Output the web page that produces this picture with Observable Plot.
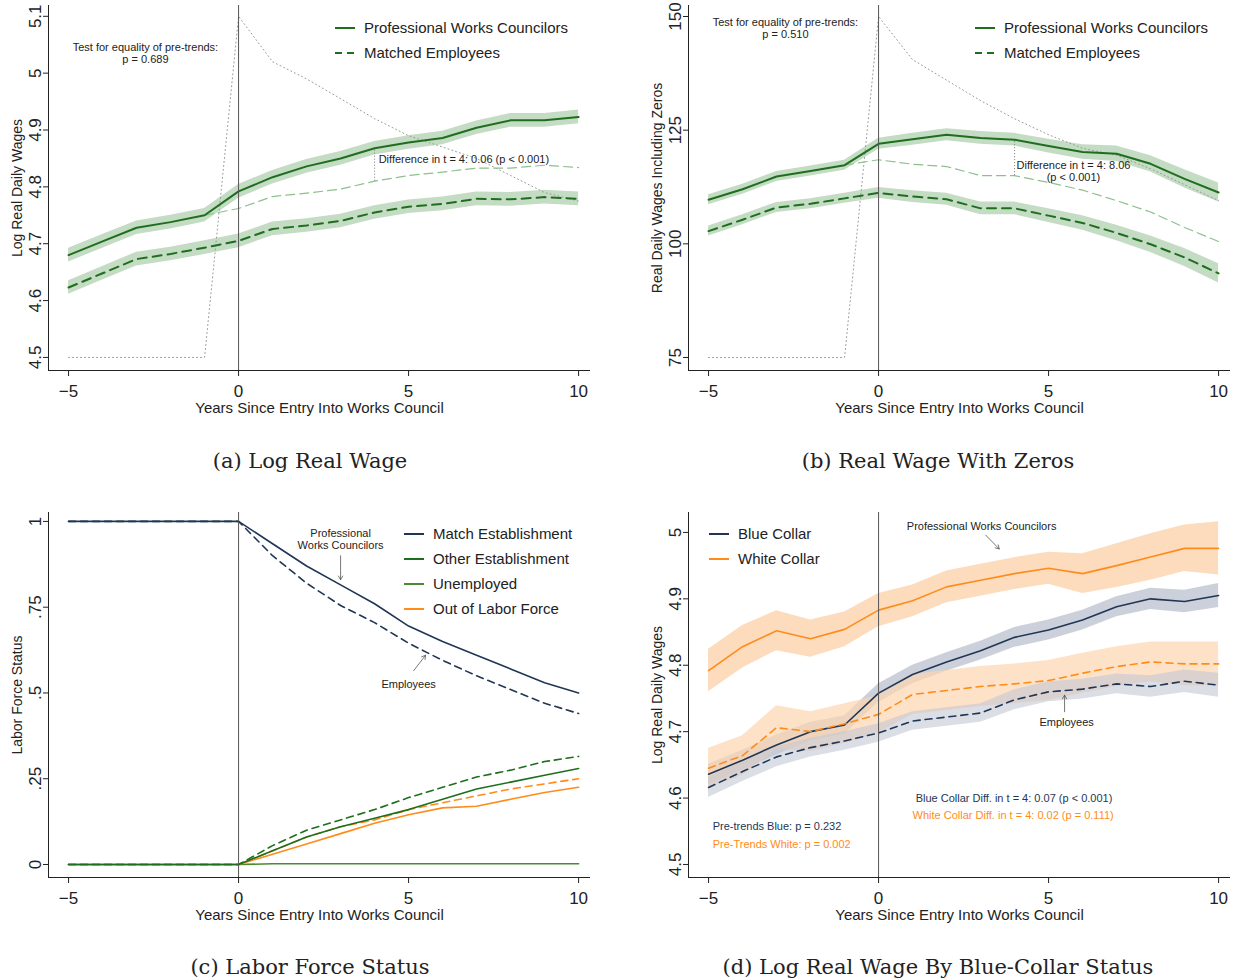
<!DOCTYPE html>
<html>
<head>
<meta charset="utf-8">
<script src="https://cdn.jsdelivr.net/npm/d3@7"></script>
<script src="https://cdn.jsdelivr.net/npm/@observablehq/plot@0.6"></script>
<style>
  body { margin: 0; background: #fff; font-family: "Liberation Sans", Arial, sans-serif; }
  #page { position: relative; width: 1238px; height: 980px; }
  .panel { position: absolute; width: 620px; height: 420px; }
  .cap { position: absolute; width: 620px; text-align: center; font-family: "DejaVu Serif", "Liberation Serif", serif; font-size: 21px; color: #222; }
  .leg { position: absolute; font-size: 15px; color: #222; }
  .leg div { display: flex; align-items: center; height: 25px; }
  .leg svg { margin-right: 9px; }
</style>
</head>
<body>
<div id="page">
  <div class="panel" id="pa" style="left:0;top:0"></div>
  <div class="panel" id="pb" style="left:640px;top:0"></div>
  <div class="panel" id="pc" style="left:0;top:507px"></div>
  <div class="panel" id="pd" style="left:640px;top:507px"></div>
  <div class="cap" style="left:0;top:449px">(a) Log Real Wage</div>
  <div class="cap" style="left:628px;top:449px">(b) Real Wage With Zeros</div>
  <div class="cap" style="left:0;top:955px">(c) Labor Force Status</div>
  <div class="cap" style="left:628px;top:955px">(d) Log Real Wage By Blue-Collar Status</div>
</div>
<script>
const years = d3.range(-5, 11);
const postYears = d3.range(-1, 11);
const xTicks = [-5, 0, 5, 10];

// (a) log real wage
const aPwc = [4.68, 4.704, 4.728, 4.738, 4.75, 4.792, 4.817, 4.836, 4.85, 4.868, 4.878, 4.886, 4.904, 4.917, 4.917, 4.923];
const aMe = [4.623, 4.648, 4.673, 4.682, 4.693, 4.705, 4.726, 4.732, 4.74, 4.755, 4.765, 4.77, 4.779, 4.778, 4.782, 4.779];
const aCf = [4.75, 4.762, 4.783, 4.789, 4.796, 4.81, 4.82, 4.826, 4.833, 4.833, 4.838, 4.834];
const aDots = [4.5, 4.5, 4.5, 4.5, 4.5, 5.1, 5.02, 4.99, 4.955, 4.92, 4.89, 4.87, 4.85, 4.82, 4.79, 4.775];
const aSe = 0.012;

// (b) real wage including zeros
const bPwc = [109.7, 112, 114.8, 116, 117.3, 122, 123, 124, 123.3, 122.9, 121.5, 120.2, 119.8, 117.6, 114.3, 111.3];
const bMe = [102.8, 105.3, 108, 108.8, 110, 111.2, 110.4, 109.8, 107.8, 107.8, 106.2, 104.6, 102.4, 99.9, 97, 93.5];
const bCf = [117.3, 118.5, 117.5, 117, 115, 115, 113.5, 111.8, 109.5, 107, 103.6, 100.5];
const bDots = [75, 75, 75, 75, 75, 150, 140.5, 136, 131.5, 127.5, 124, 121, 119.5, 116.5, 113, 109.5];
const bSe = [1.1, 1.1, 1.1, 1.1, 1.1, 1.2, 1.3, 1.3, 1.4, 1.4, 1.5, 1.6, 1.7, 1.8, 2, 2.1];

// (c) labor force status
const cMatchP = [1, 1, 1, 1, 1, 1, 0.935, 0.87, 0.815, 0.76, 0.695, 0.65, 0.61, 0.57, 0.53, 0.5];
const cMatchE = [1, 1, 1, 1, 1, 1, 0.9, 0.82, 0.755, 0.705, 0.645, 0.595, 0.55, 0.51, 0.47, 0.44];
const cOtherP = [0, 0, 0, 0, 0, 0, 0.04, 0.08, 0.11, 0.135, 0.16, 0.19, 0.22, 0.24, 0.26, 0.28];
const cOtherE = [0, 0, 0, 0, 0, 0, 0.055, 0.1, 0.13, 0.16, 0.195, 0.225, 0.255, 0.275, 0.3, 0.315];
const cUnemp = [0, 0, 0, 0, 0, 0, 0.002, 0.002, 0.002, 0.002, 0.002, 0.002, 0.002, 0.002, 0.002, 0.002];
const cOutP = [0, 0, 0, 0, 0, 0, 0.03, 0.06, 0.09, 0.12, 0.145, 0.165, 0.17, 0.19, 0.21, 0.225];
const cOutE = [0, 0, 0, 0, 0, 0, 0.04, 0.08, 0.11, 0.13, 0.16, 0.18, 0.2, 0.22, 0.235, 0.25];

// (d) by blue-collar status
const dWhiteP = [4.792, 4.828, 4.852, 4.84, 4.854, 4.883, 4.897, 4.918, 4.928, 4.938, 4.946, 4.938, 4.95, 4.963, 4.976, 4.976];
const dBlueP = [4.636, 4.657, 4.68, 4.7, 4.71, 4.758, 4.786, 4.805, 4.822, 4.842, 4.853, 4.868, 4.888, 4.9, 4.896, 4.905];
const dWhiteE = [4.645, 4.664, 4.706, 4.7, 4.712, 4.726, 4.756, 4.762, 4.768, 4.772, 4.777, 4.788, 4.798, 4.805, 4.802, 4.802];
const dBlueE = [4.616, 4.64, 4.662, 4.676, 4.686, 4.698, 4.716, 4.722, 4.728, 4.748, 4.76, 4.764, 4.772, 4.768, 4.776, 4.77];
const dWhitePSe = [0.032, 0.032, 0.03, 0.028, 0.026, 0.025, 0.024, 0.024, 0.024, 0.024, 0.024, 0.03, 0.033, 0.035, 0.035, 0.04];
const dWhiteESe = [0.03, 0.03, 0.033, 0.03, 0.03, 0.028, 0.03, 0.03, 0.03, 0.03, 0.03, 0.03, 0.03, 0.03, 0.033, 0.033];
const dBlueSe = [0.015, 0.015, 0.015, 0.014, 0.014, 0.014, 0.014, 0.014, 0.014, 0.015, 0.015, 0.015, 0.015, 0.016, 0.017, 0.018];

const GREEN = "#1e6e1e", LGREEN = "#8cc08c", BAND_G = "#c4dcc4";
const NAVY = "#1f3656", ORANGE = "#ff8c1a", OLIVE = "#4b8a32";
const BAND_N = "#c3c8d3", BAND_O = "#fdd5b1";

const toRows = (xs, ys, se) =>
  xs.map((x, i) => ({ x, y: ys[i], lo: se == null ? null : ys[i] - (Array.isArray(se) ? se[i] : se), hi: se == null ? null : ys[i] + (Array.isArray(se) ? se[i] : se) }));

function panel(id, { yDomain, yTicks, yFormat, yLabel, marks }) {
  const xDomain = [-5.59, 10.35];
  const fig = Plot.plot({
    width: 620, height: 420,
    marginLeft: 48, marginRight: 30, marginTop: 5, marginBottom: 50,
    style: { fontFamily: "Liberation Sans, Arial, sans-serif", color: "#222", background: "transparent", overflow: "visible" },
    x: { domain: xDomain },
    y: { domain: yDomain },
    marks: [
      ...marks,
      Plot.ruleX([0], { stroke: "#555", strokeWidth: 1 }),
      Plot.ruleX([xDomain[0]], { stroke: "#222" }),
      Plot.ruleY([yDomain[0]], { stroke: "#222" }),
      Plot.axisX({ ticks: xTicks, tickSize: 6, fontSize: 17, tickPadding: 8, label: null }),
      Plot.text(["Years Since Entry Into Works Council"], { frameAnchor: "bottom", dy: 42, fontSize: 15 }),
      Plot.axisY({ ticks: yTicks, tickFormat: yFormat, tickSize: 5, fontSize: 17, tickRotate: -90, textAnchor: "middle", tickPadding: 3, label: null }),
      Plot.text([yLabel], { frameAnchor: "left", textAnchor: "middle", dx: -31, rotate: -90, fontSize: 14 })
    ]
  });
  document.getElementById(id).append(fig);
}

const band = (rows, fill, op = 1) => Plot.areaY(rows, { x: "x", y1: "lo", y2: "hi", fill, fillOpacity: op });
const line = (rows, stroke, opts = {}) => Plot.line(rows, { x: "x", y: "y", stroke, strokeWidth: 2, ...opts });
const note = (t, x, y, o = {}) => Plot.text([t], { x: () => x, y: () => y, fontSize: 11, fill: "#222", lineHeight: 1.05, ...o });
const arr = (x1, y1, x2, y2) => Plot.arrow([0], { x1: () => x1, y1: () => y1, x2: () => x2, y2: () => y2, stroke: "#555", strokeWidth: 0.8, headLength: 8 });

// (a)
{
  const p = toRows(years, aPwc, aSe), m = toRows(years, aMe, aSe);
  panel("pa", {
    yDomain: [4.477, 5.119], yTicks: [4.5, 4.6, 4.7, 4.8, 4.9, 5, 5.1], yFormat: d3.format(""),
    yLabel: "Log Real Daily Wages",
    marks: [
      band(p, BAND_G), band(m, BAND_G),
      line(toRows(years, aDots), "#999", { strokeWidth: 1, strokeDasharray: "1,3" }),
      line(toRows(postYears, aCf), LGREEN, { strokeWidth: 1.2, strokeDasharray: "9,5" }),
      Plot.ruleX([4], { y1: () => aCf[5], y2: () => aPwc[9], stroke: "#777", strokeDasharray: "1,2" }),
      line(p, GREEN), line(m, GREEN, { strokeDasharray: "9,6" }),
      note("Test for equality of pre-trends:\np = 0.689", -2.74, 5.035),
      note("Difference in t = 4: 0.06 (p < 0.001)", 4.12, 4.848, { textAnchor: "start" })
    ]
  });
}
// (b)
{
  const p = toRows(years, bPwc, bSe), m = toRows(years, bMe, bSe);
  panel("pb", {
    yDomain: [72.14, 152.42], yTicks: [75, 100, 125, 150], yFormat: d3.format(""),
    yLabel: "Real Daily Wages Including Zeros",
    marks: [
      band(p, BAND_G), band(m, BAND_G),
      line(toRows(years, bDots), "#999", { strokeWidth: 1, strokeDasharray: "1,3" }),
      line(toRows(postYears, bCf), LGREEN, { strokeWidth: 1.2, strokeDasharray: "9,5" }),
      Plot.ruleX([4], { y1: () => bCf[5], y2: () => bPwc[9], stroke: "#777", strokeDasharray: "1,2" }),
      line(p, GREEN), line(m, GREEN, { strokeDasharray: "9,6" }),
      note("Test for equality of pre-trends:\np = 0.510", -2.74, 147.4),
      note("Difference in t = 4: 8.06", 4.06, 117.2, { textAnchor: "start" }),
      note("(p < 0.001)", 5.73, 114.6)
    ]
  });
}
// (c)
panel("pc", {
  yDomain: [-0.0379, 1.026], yTicks: [0, 0.25, 0.5, 0.75, 1], yFormat: (d) => d === 0 ? "0" : d === 1 ? "1" : String(d).replace(/^0/, ""),
  yLabel: "Labor Force Status",
  marks: [
    line(toRows(years, cUnemp), OLIVE, { strokeWidth: 1.6 }),
    line(toRows(years, cOutP), ORANGE, { strokeWidth: 1.6 }), line(toRows(years, cOutE), ORANGE, { strokeWidth: 1.6, strokeDasharray: "7,5" }),
    line(toRows(years, cOtherP), GREEN, { strokeWidth: 1.6 }), line(toRows(years, cOtherE), GREEN, { strokeWidth: 1.6, strokeDasharray: "7,5" }),
    line(toRows(years, cMatchP), NAVY, { strokeWidth: 1.6 }), line(toRows(years, cMatchE), NAVY, { strokeWidth: 1.6, strokeDasharray: "7,5" }),
    note("Professional\nWorks Councilors", 3.0, 0.948),
    arr(3.0, 0.9, 3.0, 0.83),
    note("Employees", 5.0, 0.525),
    arr(5.15, 0.565, 5.5, 0.61)
  ]
});
// (d)
{
  const wp = toRows(years, dWhiteP, dWhitePSe), bp = toRows(years, dBlueP, dBlueSe);
  const we = toRows(years, dWhiteE, dWhiteESe), be = toRows(years, dBlueE, dBlueSe);
  panel("pd", {
    yDomain: [4.4804, 5.03], yTicks: [4.5, 4.6, 4.7, 4.8, 4.9, 5], yFormat: d3.format(""),
    yLabel: "Log Real Daily Wages",
    marks: [
      band(wp, BAND_O, 0.85), band(bp, BAND_N, 0.85), band(we, BAND_O, 0.7), band(be, BAND_N, 0.6),
      line(wp, ORANGE, { strokeWidth: 1.6 }), line(bp, NAVY, { strokeWidth: 1.6 }),
      line(we, ORANGE, { strokeWidth: 1.6, strokeDasharray: "7,5" }), line(be, NAVY, { strokeWidth: 1.6, strokeDasharray: "7,5" }),
      note("Professional Works Councilors", 3.03, 5.009),
      arr(3.15, 4.996, 3.55, 4.975),
      note("Employees", 5.53, 4.714),
      arr(5.47, 4.73, 5.47, 4.755),
      note("Blue Collar Diff. in t = 4: 0.07 (p < 0.001)", 1.09, 4.599, { textAnchor: "start", fill: NAVY }),
      note("White Collar Diff. in t = 4: 0.02 (p = 0.111)", 1.0, 4.574, { textAnchor: "start", fill: ORANGE }),
      note("Pre-trends Blue: p = 0.232", -4.88, 4.557, { textAnchor: "start", fill: NAVY }),
      note("Pre-Trends White: p = 0.002", -4.88, 4.531, { textAnchor: "start", fill: ORANGE })
    ]
  });
}

// legends (HTML overlays)
function legend(left, top, items) {
  const div = document.createElement("div");
  div.className = "leg";
  div.style.left = left + "px"; div.style.top = top + "px";
  for (const it of items) {
    const row = document.createElement("div");
    row.innerHTML = `<svg width="20" height="4"><line x1="0" y1="2" x2="20" y2="2" stroke="${it.color}" stroke-width="2" ${it.dash ? 'stroke-dasharray="7,5"' : ""}/></svg><span>${it.label}</span>`;
    div.append(row);
  }
  document.getElementById("page").append(div);
}
const legAB = [{ label: "Professional Works Councilors", color: GREEN }, { label: "Matched Employees", color: GREEN, dash: true }];
legend(335, 15, legAB);
legend(975, 15, legAB);
legend(404, 521, [
  { label: "Match Establishment", color: NAVY }, { label: "Other Establishment", color: GREEN },
  { label: "Unemployed", color: OLIVE }, { label: "Out of Labor Force", color: ORANGE }
]);
legend(709, 521, [{ label: "Blue Collar", color: NAVY }, { label: "White Collar", color: ORANGE }]);
</script>
</body>
</html>
